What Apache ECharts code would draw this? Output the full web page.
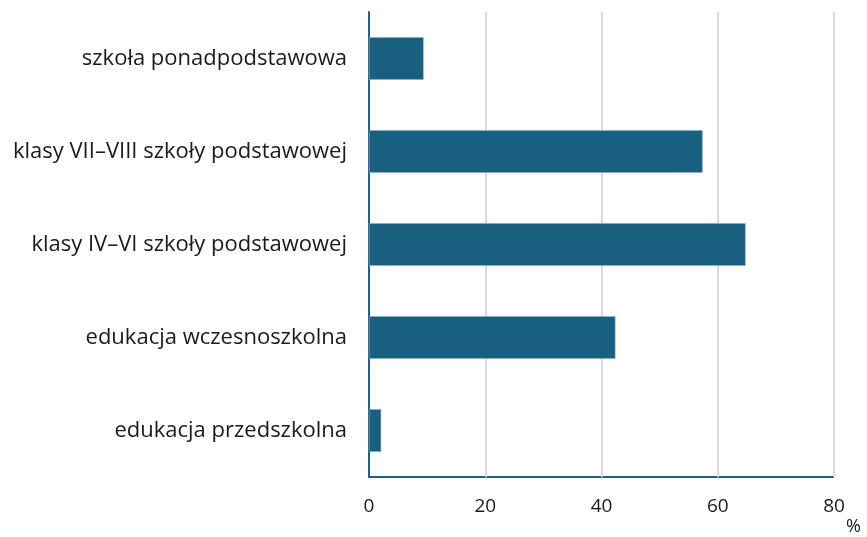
<!DOCTYPE html>
<html>
<head>
<meta charset="utf-8">
<script src="https://cdn.jsdelivr.net/npm/echarts@6/dist/echarts.min.js"></script>
<style>
  html, body { margin: 0; padding: 0; background: #ffffff; }
  #chart { width: 867px; height: 537px; }
</style>
</head>
<body>
<div id="chart"></div>
<script>
// Categories listed bottom-to-top (category axis on y grows upward)
const categories = [
  'edukacja przedszkolna',
  'edukacja wczesnoszkolna',
  'klasy IV–VI szkoły podstawowej',
  'klasy VII–VIII szkoły podstawowej',
  'szkoła ponadpodstawowa'
];
const values = [2.1, 42.4, 64.8, 57.4, 9.4];
const xTicks = [0, 20, 40, 60, 80];

const chart = echarts.init(document.getElementById('chart'));
const fontFamily = "'Open Sans', 'Noto Sans', sans-serif";

chart.setOption({
  animation: false,
  grid: { left: 369, right: 33, top: 12, bottom: 60 },
  xAxis: {
    type: 'value',
    min: xTicks[0],
    max: xTicks[xTicks.length - 1],
    interval: 20,
    axisLine: { show: false },
    axisTick: { show: false },
    axisLabel: { color: '#1a1a1a', fontSize: 19, fontFamily, margin: 20 },
    splitLine: { show: true, lineStyle: { color: '#d9d9d9', width: 2 } }
  },
  yAxis: {
    type: 'category',
    data: categories,
    axisLine: { show: true, lineStyle: { color: '#1f6188', width: 2 } },
    axisTick: { show: false },
    axisLabel: { color: '#1a1a1a', fontSize: 22, fontFamily, margin: 22 }
  },
  series: [{
    type: 'bar',
    data: values,
    barWidth: '46%',
    itemStyle: { color: '#195f80', borderColor: '#8fb3c8', borderWidth: 0.6 }
  }],
  graphic: [
    {
      type: 'line',
      shape: { x1: 368, y1: 477, x2: 834, y2: 477 },
      style: { stroke: '#1f6188', lineWidth: 2 }
    },
    {
      type: 'text',
      left: 846,
      top: 518,
      style: { text: '%', fill: '#1a1a1a', font: "18px 'Open Sans', sans-serif" }
    }
  ]
});
</script>
</body>
</html>
